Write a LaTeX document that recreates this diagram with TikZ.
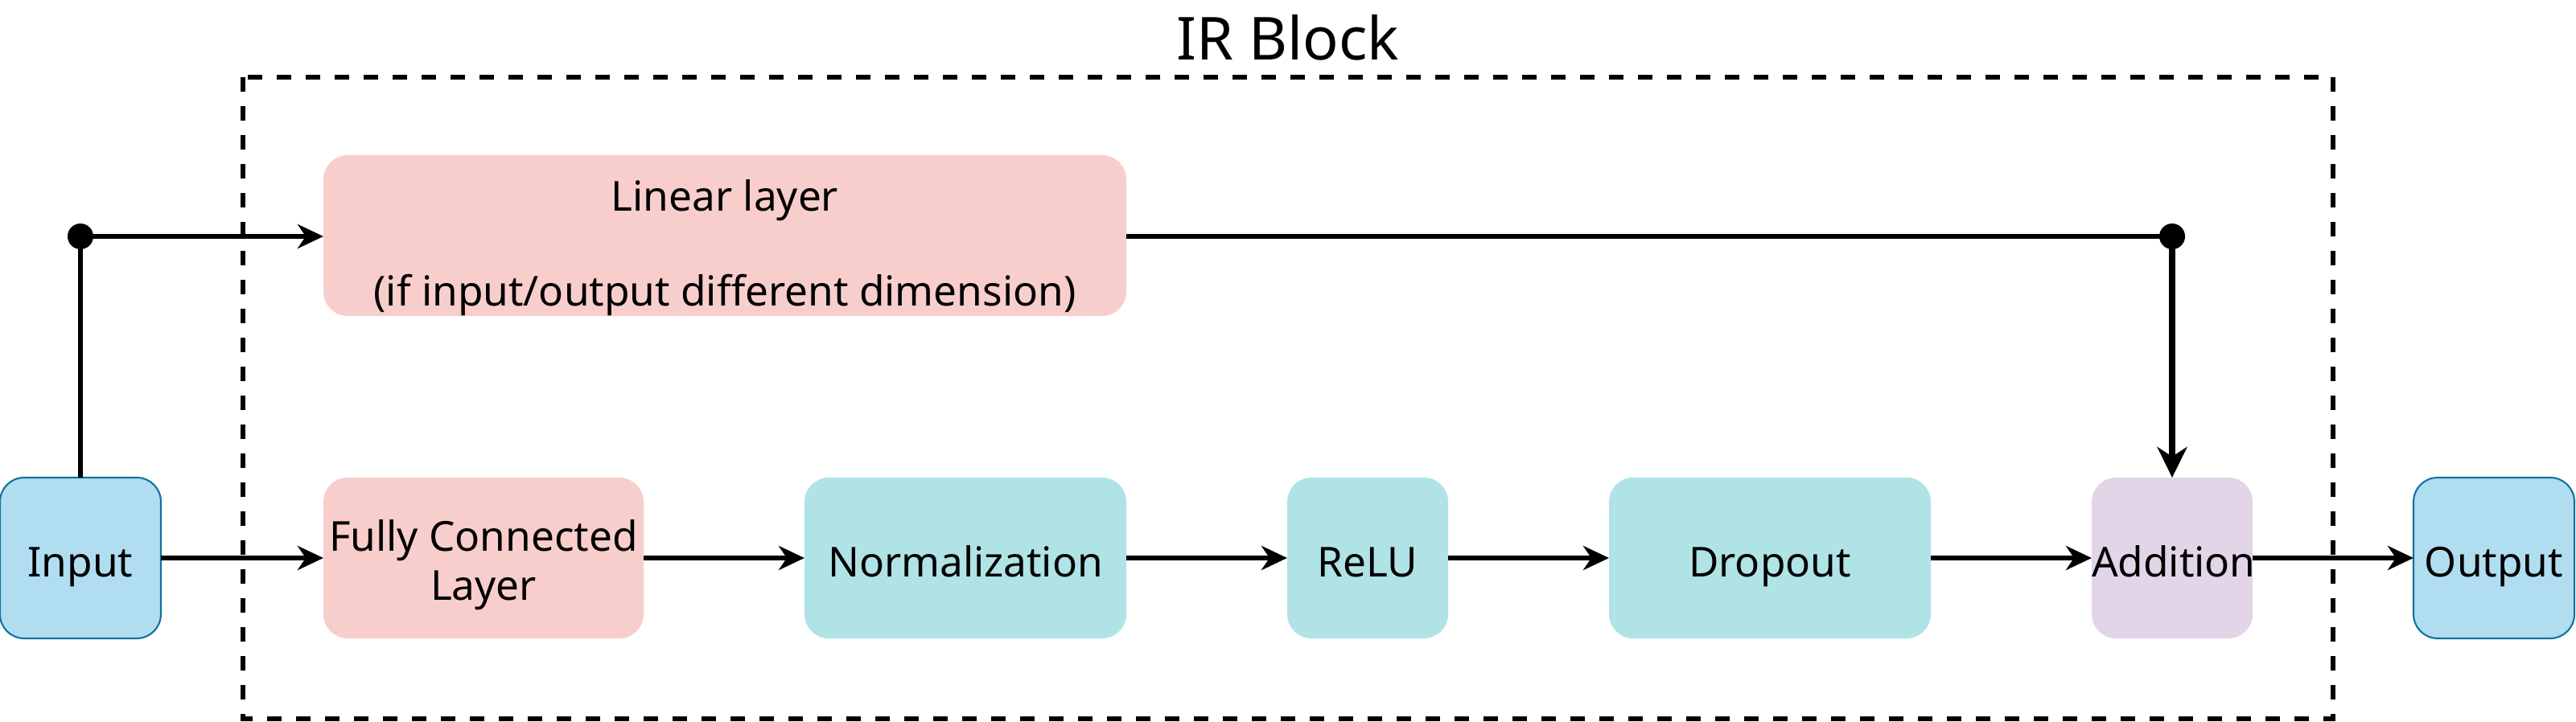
\documentclass[tikz,border=0pt]{standalone}
\usepackage{fontspec}
\setmainfont{Noto Sans}
\usetikzlibrary{arrows.meta}
\definecolor{inblue}{HTML}{B1DDF0}
\definecolor{inblueline}{HTML}{10739E}
\definecolor{pinkfill}{HTML}{F8CECC}
\definecolor{tealfill}{HTML}{B0E3E6}
\definecolor{purplefill}{HTML}{E1D5E7}
\begin{document}
\begin{tikzpicture}[
  blk/.style={rounded corners=0.3cm, inner sep=0pt, outer sep=0pt, minimum height=2cm, align=center, font=\fontsize{14.6}{17.4}\selectfont},
  oneline/.style={text height=15pt, text depth=1.6pt},
  iobox/.style={blk, oneline, fill=inblue, draw=inblueline, line width=0.6pt, minimum width=2cm},
  conn/.style={line width=1.7pt, -{Stealth[length=0.32cm, width=0.3cm, inset=0.1cm]}},
  plainconn/.style={line width=1.7pt},
  thickconn/.style={line width=2.3pt, -{Stealth[length=0.38cm, width=0.37cm, inset=0.12cm]}},
  dotmark/.style={fill=black}
]
\useasboundingbox (0,0) rectangle (32.02,-8.98);
% IR block frame
\draw[line width=1.7pt, dash pattern=on 0.18cm off 0.18cm] (3.02,-0.96) rectangle (29,-8.94);
\node[font=\fontsize{21}{25}\selectfont, inner sep=0pt] (title) at (16.01,-0.47) {IR Block};
% nodes
\node[iobox] (in) at (1,-6.94) {Input};
\node[blk, fill=pinkfill, minimum width=9.98cm, font=\fontsize{14.6}{33.6}\selectfont] (lin) at (9.01,-2.93) {\rule{0pt}{19.5pt}Linear layer\\(if input/output different dimension)};
\node[blk, fill=pinkfill, minimum width=3.98cm] (fc) at (6.01,-6.94) {\rule{0pt}{16pt}Fully Connected\\Layer};
\node[blk, oneline, fill=tealfill, minimum width=4cm] (norm) at (12,-6.94) {Normalization};
\node[blk, oneline, fill=tealfill, minimum width=2cm] (relu) at (17,-6.94) {ReLU};
\node[blk, oneline, fill=tealfill, minimum width=4cm] (drop) at (22,-6.94) {Dropout};
\node[blk, oneline, fill=purplefill, minimum width=2cm, text width=2cm] (add) at (27,-6.94) {Addition};
\node[iobox] (out) at (31,-6.94) {Output};
% junctions
\coordinate (d1) at (1,-2.94);
\coordinate (d2) at (27,-2.94);
% connectors
\draw[conn] (in.north) -- (d1) -- (lin.west |- d1);
\draw[plainconn] (lin.east |- d2) -- (d2);
\draw[thickconn] (d2) -- (add.north);
\fill[dotmark] (d1) circle (0.16);
\fill[dotmark] (d2) circle (0.16);
\draw[conn] (in.east) -- (fc.west);
\draw[conn] (fc.east) -- (norm.west);
\draw[conn] (norm.east) -- (relu.west);
\draw[conn] (relu.east) -- (drop.west);
\draw[conn] (drop.east) -- (add.west);
\draw[conn] (add.east) -- (out.west);
\end{tikzpicture}
\end{document}
